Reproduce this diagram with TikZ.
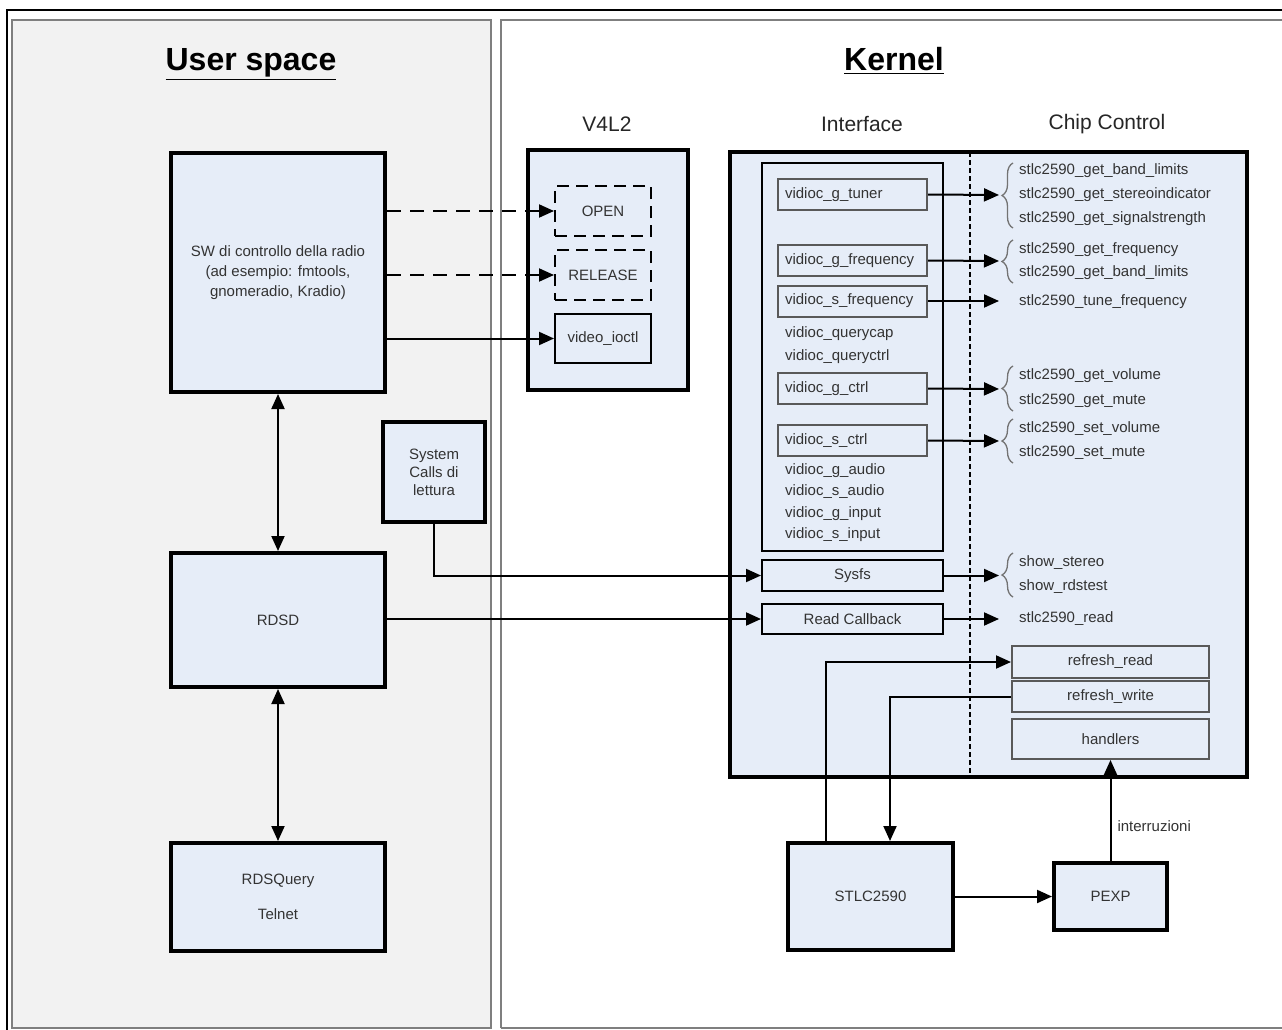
\documentclass[tikz,border=0pt]{standalone}
\usepackage{fontspec}
\setmainfont{Liberation Sans}
\usetikzlibrary{arrows.meta,decorations.pathreplacing}
\definecolor{boxfill}{HTML}{E6EDF8}
\definecolor{userfill}{HTML}{F2F2F2}
\definecolor{panelline}{HTML}{7F7F7F}
\definecolor{txt}{HTML}{333333}
\begin{document}
\begin{tikzpicture}[x=1pt,y=-1pt,
  every node/.style={font=\fontsize{15}{18}\selectfont, text=txt, inner sep=0pt},
  bigbox/.style={draw=black, line width=4pt, fill=boxfill, rectangle, align=center},
  thinbox/.style={draw=black!65, line width=2pt, fill=boxfill, rectangle},
  leftbox/.style={thinbox, minimum width=149pt, minimum height=31pt, text width=135pt, align=left},
  chipbox/.style={thinbox, minimum width=197pt, align=center},
  dbox/.style={draw=black, line width=2pt, dash pattern=on 12pt off 7pt, rectangle, minimum width=96pt, minimum height=50pt},
  arr/.style={line width=2pt, -{Triangle[length=15pt,width=13pt]}},
  darr/.style={arr, dash pattern=on 14pt off 9pt},
  dblarr/.style={line width=2pt, {Triangle[length=15pt,width=13pt]}-{Triangle[length=15pt,width=13pt]}},
  lbl/.style={anchor=west},
  cbrace/.style={draw=black!55, line width=1.3pt, decorate, decoration={brace, amplitude=11pt}},
  title/.style={font=\fontsize{32}{38}\selectfont\bfseries, text=black, anchor=base},
  subtitle/.style={font=\fontsize{21}{25}\selectfont, text=black!85},
]
\useasboundingbox (0,0) rectangle (1282,1030);
\fill[white] (0,0) rectangle (1282,1030);
% outer frame
\draw[line width=1.5pt] (7,1032) -- (7,10) -- (1285,10);
% panels
\draw[panelline, line width=2pt, fill=userfill] (12,20) rectangle (491,1028);
\draw[panelline, line width=2pt, fill=white] (501,1028) -- (501,20) -- (1285,20);
\draw[panelline, line width=2pt] (501,1028) -- (1285,1028);

\node[title] (tus) at (251,71) {\underline{User space}};
\node[title] (tk) at (894,71) {\underline{Kernel}};
\node[subtitle] (tv) at (607,124) {V4L2};
\node[subtitle] (ti) at (862,124) {Interface};
\node[subtitle] (tc) at (1107,124) {Chip Control};

% user space boxes
\node[bigbox, minimum width=214pt, minimum height=239pt, font=\fontsize{15}{20}\selectfont] (sw) at (278,272.5)
  {SW di controllo della radio\\(ad esempio: fmtools,\\gnomeradio, Kradio)};
\node[bigbox, minimum width=214pt, minimum height=134pt] (rdsd) at (278,620) {RDSD};
\node[bigbox, minimum width=214pt, minimum height=108pt, font=\fontsize{15}{35}\selectfont] (rdsq) at (278,897) {RDSQuery\\Telnet};
\node[bigbox, minimum width=102pt, minimum height=100pt] (sys) at (434,472) {System\\Calls di\\lettura};

% V4L2
\node[bigbox, minimum width=160pt, minimum height=240pt] (v4l) at (608,270) {};
\node[dbox] (open) at (603,211) {OPEN};
\node[dbox] (rel) at (603,275) {RELEASE};
\node[draw=black, line width=2pt, rectangle, minimum width=96pt, minimum height=49pt] (vio) at (603,338.5) {video\_ioctl};

% Kernel
\node[bigbox, minimum width=517pt, minimum height=625pt] (kern) at (988.5,464.5) {};
\draw[line width=1.3pt, dash pattern=on 5pt off 3pt] (970,152) -- (970,777);
\node[draw=black, line width=2pt, rectangle, minimum width=181pt, minimum height=388pt] (iface) at (852.5,357) {};

\node[leftbox] (gt) at (852.5,194.5) {vidioc\_g\_tuner};
\node[leftbox] (gf) at (852.5,260.5) {vidioc\_g\_frequency};
\node[leftbox] (sf) at (852.5,301) {vidioc\_s\_frequency};
\node[lbl] (qc) at (785,334) {vidioc\_querycap};
\node[lbl] (qt) at (785,357) {vidioc\_queryctrl};
\node[leftbox] (gc) at (852.5,388.5) {vidioc\_g\_ctrl};
\node[leftbox] (sc) at (852.5,440.5) {vidioc\_s\_ctrl};
\node[lbl] (ga) at (785,471) {vidioc\_g\_audio};
\node[lbl] (sa) at (785,492) {vidioc\_s\_audio};
\node[lbl] (gi) at (785,514) {vidioc\_g\_input};
\node[lbl] (si) at (785,535) {vidioc\_s\_input};

\node[draw=black, line width=2pt, rectangle, minimum width=181pt, minimum height=31pt] (sysfs) at (852.5,575.5) {Sysfs};
\node[draw=black, line width=2pt, rectangle, minimum width=181pt, minimum height=30pt] (rcb) at (852.5,619) {Read Callback};

\node[chipbox, minimum height=32pt] (rread) at (1110.5,662) {refresh\_read};
\node[chipbox, minimum height=31pt] (rwrite) at (1110.5,696.5) {refresh\_write};
\node[chipbox, minimum height=40pt] (hand) at (1110.5,739) {handlers};

\node[bigbox, minimum width=165pt, minimum height=107pt] (stlc) at (870.5,896.5) {STLC2590};
\node[bigbox, minimum width=113pt, minimum height=67pt] (pexp) at (1110.5,896.5) {PEXP};

% chip control texts
\node[lbl] (c1) at (1019,171) {stlc2590\_get\_band\_limits};
\node[lbl] (c2) at (1019,195) {stlc2590\_get\_stereoindicator};
\node[lbl] (c3) at (1019,219) {stlc2590\_get\_signalstrength};
\node[lbl] (c4) at (1019,250) {stlc2590\_get\_frequency};
\node[lbl] (c5) at (1019,273) {stlc2590\_get\_band\_limits};
\node[lbl] (c6) at (1019,302) {stlc2590\_tune\_frequency};
\node[lbl] (c7) at (1019,376) {stlc2590\_get\_volume};
\node[lbl] (c8) at (1019,401) {stlc2590\_get\_mute};
\node[lbl] (c9) at (1019,429) {stlc2590\_set\_volume};
\node[lbl] (c10) at (1019,453) {stlc2590\_set\_mute};
\node[lbl] (c11) at (1019,563) {show\_stereo};
\node[lbl] (c12) at (1019,587) {show\_rdstest};
\node[lbl] (c13) at (1019,619) {stlc2590\_read};

% braces
\draw[cbrace] (1013,228) -- (1013,163);
\draw[cbrace] (1013,283) -- (1013,240);
\draw[cbrace] (1013,411) -- (1013,366);
\draw[cbrace] (1013,463) -- (1013,419);
\draw[cbrace] (1013,597) -- (1013,553);

% arrow targets
\coordinate (t1) at (999,195);
\coordinate (t2) at (999,261);
\coordinate (t3) at (999,301);
\coordinate (t4) at (999,389);
\coordinate (t5) at (999,441);
\coordinate (t6) at (999,575.5);
\coordinate (t7) at (999,619);

% connectors
\draw[darr] (open.west -| sw.east) -- (open.west);
\draw[darr] (rel.west -| sw.east) -- (rel.west);
\draw[arr] (vio.west -| sw.east) -- (vio.west);
\draw[dblarr] (sw.south) -- (rdsd.north);
\draw[dblarr] (rdsd.south) -- (rdsq.north);
\draw[arr] (sys.south) |- (sysfs.west);
\draw[arr] (rcb.west -| rdsd.east) -- (rcb.west);

\draw[arr] (gt.east) -- (t1);
\draw[arr] (gf.east) -- (t2);
\draw[arr] (sf.east) -- (t3);
\draw[arr] (gc.east) -- (t4);
\draw[arr] (sc.east) -- (t5);
\draw[arr] (sysfs.east) -- (t6);
\draw[arr] (rcb.east) -- (t7);

\draw[arr] ([xshift=-44.5pt]stlc.north) |- (rread.west);
\draw[arr] (rwrite.west) -| ([xshift=19.5pt]stlc.north);
\draw[arr] (stlc.east) -- (pexp.west);
\draw[arr] (pexp.north) -- (hand.south) node[pos=0.35, right=6pt] (intr) {interruzioni};
\end{tikzpicture}
\end{document}
